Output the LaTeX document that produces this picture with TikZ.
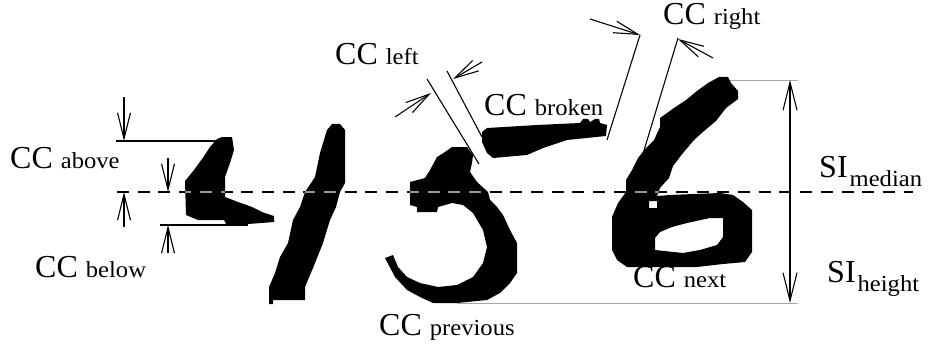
\documentclass[tikz,border=0pt]{standalone}
\usepackage{fontspec}
\setmainfont{Liberation Serif}
\newfontfamily\subfont[FakeStretch=1.07]{Liberation Serif}
\usetikzlibrary{arrows.meta}
\newcommand\ccsub[1]{{\subfont\fontsize{23}{23}\selectfont #1}}
\newcommand\cclabel[2]{#1 \ccsub{#2}}
\newcommand\silabel[2]{#1\kern2pt\raisebox{-9pt}{\ccsub{#2}}}
\begin{document}
\begin{tikzpicture}[x=1pt,y=-1pt,
  lbl/.style={inner sep=0pt, anchor=base west, font=\fontsize{32}{32}\selectfont},
  dimline/.style={line width=1.1pt},
  dimarrow/.style={line width=1.1pt, -{Straight Barb[length=26pt,width=13pt]}},
  sidearrow/.style={line width=1.1pt, -{Straight Barb[length=24pt,width=12pt]}},
  guide/.style={line width=0.8pt, black!35},
  medianline/.style={line width=1.1pt, dash pattern=on 12pt off 8.7pt},
  ink/.style={fill=black, even odd rule}]
\useasboundingbox (0,0) rectangle (928,350);

% glyph outlines of the scanned characters
\def\digitfour{(222,137) -- (232,137) -- (234,150) -- (230,163) -- (225,177) -- (225,197) -- (238,202) -- (252,207) -- (262,212) -- (274,216) -- (274,222) -- (248,224) -- (226,224) -- (224,220) -- (198,220) -- (186,215) -- (185,181) -- (194,170) -- (202,159) -- (210,147) -- (217,139) -- cycle}
\def\digitone{(332,124) -- (340,124) -- (345,130) -- (345,183) -- (340,192) -- (336,207) -- (330,220) -- (323,243) -- (313,268) -- (305,287) -- (305,300) -- (273,300) -- (273,304) -- (269,304) -- (269,287) -- (275,273) -- (280,257) -- (288,243) -- (293,220) -- (300,207) -- (305,192) -- (315,177) -- (320,153) -- (327,130) -- cycle}
\def\digitfive{(452,147) -- (467,147) -- (473,155) -- (472,163) -- (470,172) -- (477,182) -- (488,192) -- (490,200) -- (497,207) -- (503,215) -- (510,230) -- (517,243) -- (517,273) -- (510,283) -- (500,293) -- (487,300) -- (457,303) -- (433,303) -- (420,297) -- (407,290) -- (395,277) -- (385,258) -- (393,255) -- (398,267) -- (407,277) -- (420,283) -- (438,287) -- (457,285) -- (473,277) -- (483,263) -- (487,247) -- (483,230) -- (473,213) -- (463,205) -- (452,203) -- (438,207) -- (437,212) -- (417,212) -- (417,207) -- (410,205) -- (410,182) -- (425,178) -- (430,170) -- (437,157) -- (445,152) -- cycle}
\def\digitbroken{(482,132) -- (487,128) -- (537,125) -- (580,123) -- (583,119) -- (588,119) -- (590,122) -- (595,119) -- (599,119) -- (600,123) -- (607,125) -- (606,136) -- (567,140) -- (543,148) -- (527,155) -- (493,158) -- (487,153) -- (482,142) -- cycle}
\def\digitsix{(719,77) -- (728,77) -- (731,83) -- (738,91) -- (738,99) -- (726,108) -- (716,121) -- (704,131) -- (694,140) -- (683,153) -- (673,166) -- (669,178) -- (660,188) -- (657,196) -- (670,195) -- (693,194) -- (720,193) -- (733,195) -- (743,202) -- (752,210) -- (752,252) -- (745,262) -- (723,264) -- (697,267) -- (627,267) -- (617,260) -- (612,250) -- (612,217) -- (618,203) -- (626,192) -- (626,180) -- (632,170) -- (638,158) -- (646,148) -- (654,140) -- (660,127) -- (660,118) -- (674,108) -- (686,100) -- (697,91) -- (708,83) -- cycle
  (655,238) -- (660,232) -- (672,227) -- (687,223) -- (710,218) -- (723,218) -- (723,237) -- (717,245) -- (700,250) -- (683,253) -- (655,250) -- cycle
  (649,201) -- (657,201) -- (657,208) -- (649,208) -- cycle}

% reference points
\coordinate (topL) at (720,80);   \coordinate (topR) at (798,80);
\coordinate (botL) at (457,303);  \coordinate (botR) at (798,303);
\coordinate (siTop) at (790,80);  \coordinate (siBot) at (790,303);
\coordinate (medL) at (117,192);  \coordinate (medR) at (913,192);

% thin height guides
\draw[guide] (topL) -- (topR);
\draw[guide] (botL) -- (botR);

% median line
\draw[medianline] (medL) -- (medR);

% characters
\fill[ink] \digitfour;
\fill[ink] \digitone;
\fill[ink] \digitfive;
\fill[ink] \digitbroken;
\fill[ink] \digitsix;

% median line seen over the ink
\begin{scope}
  \clip \digitfour \digitone \digitfive \digitbroken \digitsix;
  \draw[medianline, black!40] (medL) -- (medR);
\end{scope}

% height arrow
\draw[dimline, {Straight Barb[length=28pt,width=14pt]}-{Straight Barb[length=28pt,width=14pt]}] (siTop) -- (siBot);

% CC above / CC below
\coordinate (abA) at (124,97);  \coordinate (abB) at (124,141);
\coordinate (abL) at (116,141); \coordinate (abR) at (230,141);
\coordinate (amA) at (168,158); \coordinate (amB) at (168,192);
\coordinate (beA) at (124,227); \coordinate (beB) at (124,192);
\coordinate (bmA) at (168,253); \coordinate (bmB) at (168,225);
\coordinate (beL) at (160,225); \coordinate (beR) at (248,225);
\draw[dimline] (abL) -- (abR);
\draw[dimline] (beL) -- (beR);
\draw[dimarrow] (abA) -- (abB);
\draw[dimarrow] (amA) -- (amB);
\draw[dimarrow] (beA) -- (beB);
\draw[dimarrow] (bmA) -- (bmB);

% CC left
\coordinate (l1a) at (427,79);  \coordinate (l1b) at (479,164);
\coordinate (l2a) at (447,71);  \coordinate (l2b) at (482,137);
\coordinate (la1) at (395,117); \coordinate (la2) at (431,93);
\coordinate (lb1) at (482,62);  \coordinate (lb2) at (453,79);
\draw[dimline] (l1a) -- (l1b);
\draw[dimline] (l2a) -- (l2b);
\draw[sidearrow] (la1) -- (la2);
\draw[sidearrow] (lb1) -- (lb2);

% CC right
\coordinate (r1a) at (640,35);  \coordinate (r1b) at (607,140);
\coordinate (r2a) at (678,38);  \coordinate (r2b) at (642,157);
\coordinate (ra1) at (590,19);  \coordinate (ra2) at (640,35);
\coordinate (rb1) at (713,58);  \coordinate (rb2) at (678,39);
\draw[dimline] (r1a) -- (r1b);
\draw[dimline] (r2a) -- (r2b);
\draw[sidearrow] (ra1) -- (ra2);
\draw[sidearrow] (rb1) -- (rb2);

% labels
\node[lbl] (tabove)  at (10,168)  {\cclabel{CC}{above}};
\node[lbl] (tbelow)  at (35,277)  {\cclabel{CC}{below}};
\node[lbl] (tleft)   at (335,65)  {\cclabel{CC}{left}};
\node[lbl] (tbroken) at (484,115) {\cclabel{CC}{broken}};
\node[lbl] (tright)  at (663,25)  {\cclabel{CC}{right}};
\node[lbl] (tnext)   at (633,287) {\cclabel{CC}{next}};
\node[lbl] (tprev)   at (379,335) {\cclabel{CC}{previous}};
\node[lbl] (tmedian) at (819,177) {\silabel{SI}{median}};
\node[lbl] (theight) at (827,282) {\silabel{SI}{height}};
\end{tikzpicture}
\end{document}
